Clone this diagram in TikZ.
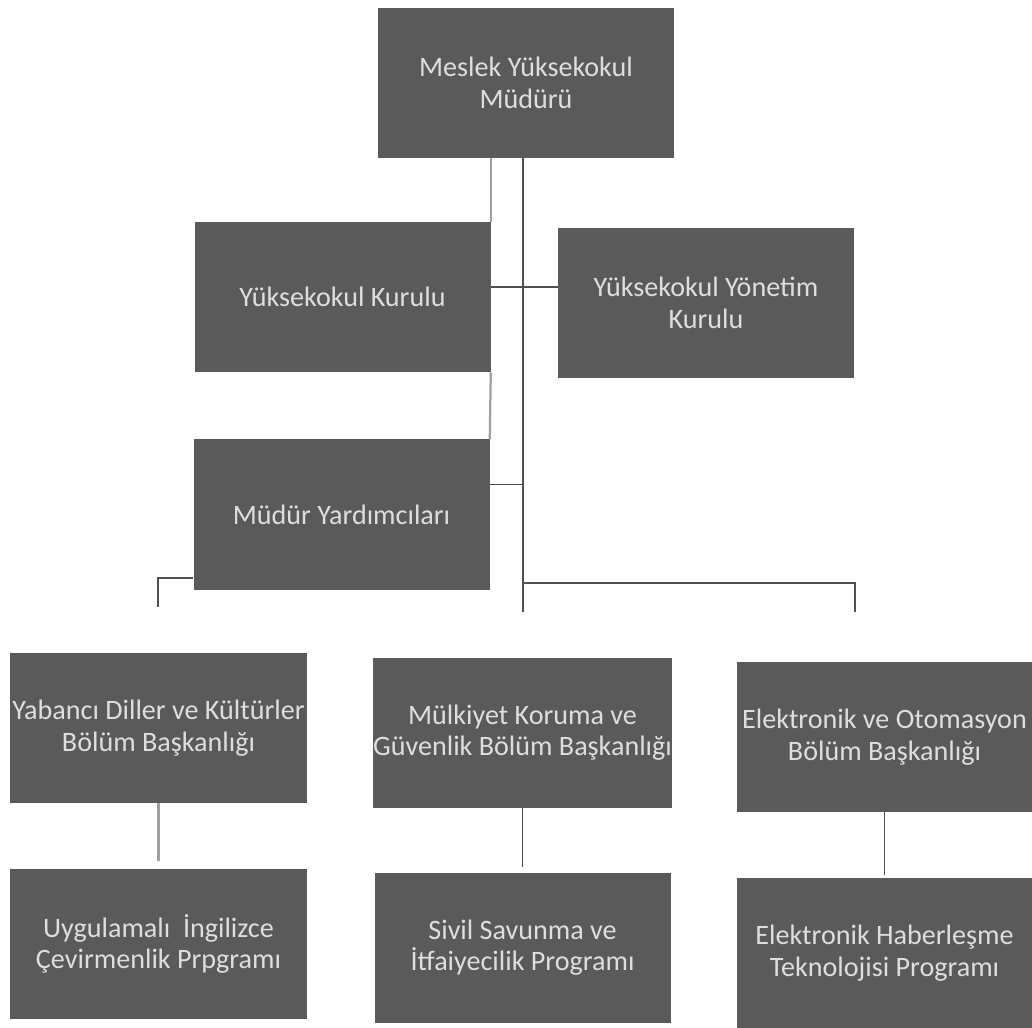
\documentclass[tikz,border=0pt]{standalone}
\usepackage{fontspec}
\setmainfont{Carlito}
\usepackage{xcolor}
\usepackage{tikz}
\usetikzlibrary{positioning,calc}
\definecolor{boxgray}{HTML}{5A5A5A}
\definecolor{boxtext}{HTML}{DEDEDE}
\definecolor{linedark}{HTML}{505050}
\definecolor{linelight}{HTML}{A0A0A0}
\tikzset{
  unit/.style  ={rectangle,fill=boxgray,text=boxtext,minimum width=7.4cm,minimum height=3.75cm,
                 inner sep=0pt,align=center,font=\fontsize{20}{22.5}\selectfont},
  conn/.style  ={linedark,line width=1.4pt},
  faint/.style ={linelight,line width=1.6pt},
}

\begin{document}
\begin{tikzpicture}
  \useasboundingbox (0,0) rectangle (25.8,-25.7);
  \node[unit] (mudur)   at (13.15,-2.075)   {Meslek Yüksekokul\\Müdürü};
  \node[unit] (kurul)   at (8.5625,-7.425)  {Yüksekokul Kurulu};
  \node[unit] (yonetim) at (17.65,-7.575)   {Yüksekokul Yönetim\\Kurulu};
  \node[unit] (yard)    at (8.5375,-12.8625){Müdür Yardımcıları};
  \node[unit] (yabanci) at (3.9625,-18.2)   {Yabancı Diller ve Kültürler\\Bölüm Başkanlığı};
  \node[unit] (mulk)    at (13.0625,-18.3125){Mülkiyet Koruma ve\\Güvenlik Bölüm Başkanlığı};
  \node[unit] (elek)    at (22.1125,-18.425){Elektronik ve Otomasyon\\Bölüm Başkanlığı};
  \node[unit] (ingprog) at (3.9625,-23.6)   {Uygulamalı\ \ İngilizce\\Çevirmenlik Prpgramı};
  \node[unit] (sivprog) at (13.0625,-23.6875){Sivil Savunma ve\\İtfaiyecilik Programı};
  \node[unit] (habprog) at (22.1125,-23.825){Elektronik Haberleşme\\Teknolojisi Programı};
  \coordinate (trunk) at (13.075,-15.3);
  \coordinate (rend)  at (21.375,-15.3);
  \coordinate (lend)  at (3.95,-15.175);
  \draw[faint] (mudur.south -| kurul.north east) -- (kurul.north east);
  \draw[faint] (kurul.south east) -- (yard.north east);
  \draw[conn] (mudur.south -| trunk) -- (trunk);
  \draw[conn] ([yshift=0.25cm]kurul.east) -- ([yshift=0.25cm]kurul.east -| yonetim.west);
  \draw[conn] ([yshift=0.75cm]yard.east) -- ([yshift=0.75cm]yard.east -| trunk);
  \draw[conn] ($(trunk)+(0,0.725)$) -- ($(rend)+(0,0.725)$) -- (rend);
  \draw[conn] ([yshift=0.3cm]yard.south west) -- ([yshift=0.3cm]yard.south west -| lend) -- (lend);
  \draw[faint,shorten >=0.2cm] (yabanci.south) -- (ingprog.north);
  \draw[conn,shorten >=0.12cm] (mulk.south) -- (sivprog.north);
  \draw[conn,shorten >=0.08cm] (elek.south) -- (habprog.north);
\end{tikzpicture}
\end{document}
